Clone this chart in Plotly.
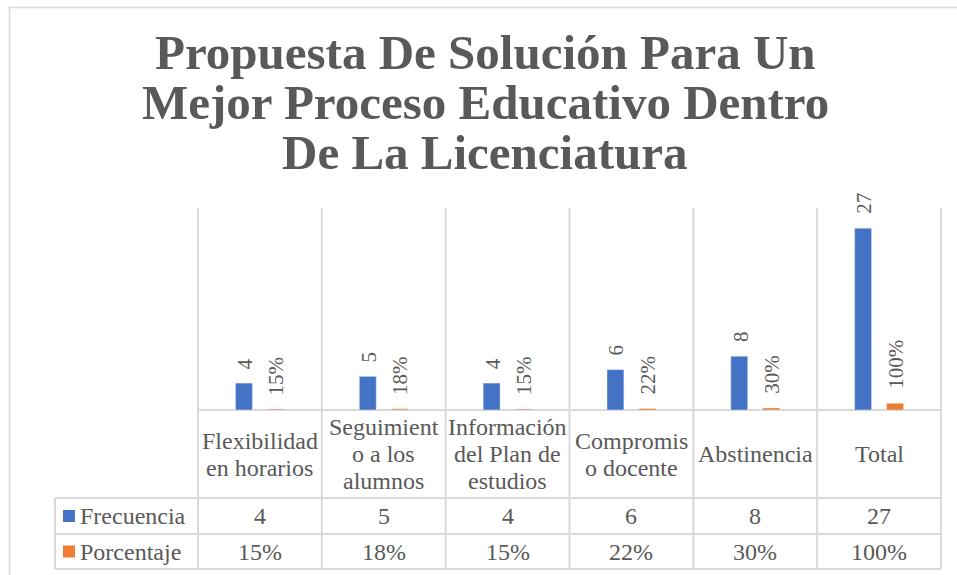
import plotly.graph_objects as go

# ---- data ----
categories = ["Flexibilidad en horarios", "Seguimiento a los alumnos",
              "Información del Plan de estudios", "Compromiso docente",
              "Abstinencia", "Total"]
header_labels = [["Flexibilidad", "en horarios"],
                 ["Seguimient", "o a los", "alumnos"],
                 ["Información", "del Plan de", "estudios"],
                 ["Compromis", "o docente"],
                 ["Abstinencia"],
                 ["Total"]]
frecuencia = [4, 5, 4, 6, 8, 27]
porcentaje = [0.15, 0.18, 0.15, 0.22, 0.30, 1.00]
series_names = ["Frecuencia", "Porcentaje"]
series_colors = ["#4472C4", "#ED7D31"]
title_lines = ["Propuesta De Solución Para Un",
               "Mejor Proceso Educativo Dentro",
               "De La Licenciatura"]

W, H = 957, 575
SERIF = "Liberation Serif, Times New Roman, serif"
TXT = "#595959"
GRID = "#d9d9d9"


def px(x):
    return x / W


def py(y):
    return 1 - y / H


# plot area in pixels
PX0, PX1 = 198, 941
PY_TOP, PY_BASE = 208, 410
ROW1, ROW2, ROW3 = 498, 534, 569
LEG_X = 55

fig = go.Figure()
fig.add_trace(go.Bar(x=categories, y=frecuencia, name=series_names[0],
                     marker_color=series_colors[0]))
fig.add_trace(go.Bar(x=categories, y=porcentaje, name=series_names[1],
                     marker_color=series_colors[1]))

annotations = []

# title, one annotation per line
for i, line in enumerate(title_lines):
    annotations.append(dict(
        text=f"<b>{line}</b>", x=px(485), y=py(53 + i * 49.5),
        xref="paper", yref="paper", xanchor="center", yanchor="middle",
        showarrow=False, font=dict(family=SERIF, size=49, color=TXT)))

# rotated value labels above the bars
label_font = dict(family=SERIF, size=21, color=TXT)
for c, v in zip(categories, frecuencia):
    annotations.append(dict(
        x=c, y=v, xref="x", yref="y", text=str(v), textangle=-90,
        xanchor="center", yanchor="bottom", xshift=-15, yshift=12,
        showarrow=False, font=label_font))
for c, v in zip(categories, porcentaje):
    annotations.append(dict(
        x=c, y=v, xref="x", yref="y", text=f"{v:.0%}", textangle=-90,
        xanchor="center", yanchor="bottom", xshift=17, yshift=12,
        showarrow=False, font=label_font))

# data table: header row with wrapped category names
table_font = dict(family=SERIF, size=24, color=TXT)
header_mid = (PY_BASE + ROW1) / 2
line_h = 27
for c, lines in zip(categories, header_labels):
    n = len(lines)
    for j, ln in enumerate(lines):
        annotations.append(dict(
            x=c, xref="x", y=py(header_mid + (j - (n - 1) / 2) * line_h),
            yref="paper", text=ln, showarrow=False, xanchor="center",
            yanchor="middle", font=table_font))

# data table: value rows
row_mids = [(ROW1 + ROW2) / 2, (ROW2 + ROW3) / 2]
row_texts = [[str(v) for v in frecuencia], [f"{v:.0%}" for v in porcentaje]]
for mid, texts in zip(row_mids, row_texts):
    for c, t in zip(categories, texts):
        annotations.append(dict(
            x=c, xref="x", y=py(mid), yref="paper", text=t,
            showarrow=False, xanchor="center", yanchor="middle",
            font=table_font))

# legend keys inside the table
shapes = []
for mid, name, color in zip(row_mids, series_names, series_colors):
    shapes.append(dict(type="rect", xref="paper", yref="paper",
                       x0=px(63), x1=px(75), y0=py(mid - 6), y1=py(mid + 6),
                       fillcolor=color, line=dict(width=0)))
    annotations.append(dict(
        x=px(78), y=py(mid), xref="paper", yref="paper", text=name,
        showarrow=False, xanchor="left", yanchor="middle", font=table_font))

# chart border
shapes.append(dict(type="rect", xref="paper", yref="paper",
                   x0=px(9.5), x1=1.05, y0=-0.05, y1=py(7.5),
                   line=dict(color=GRID, width=1.6), layer="below"))

# table grid lines
n = len(categories)
for k in range(n + 1):
    xk = px(PX0 + k * (PX1 - PX0) / n)
    shapes.append(dict(type="line", xref="paper", yref="paper",
                       x0=xk, x1=xk, y0=py(PY_TOP), y1=py(ROW3),
                       line=dict(color=GRID, width=2), layer="below"))
shapes.append(dict(type="line", xref="paper", yref="paper",
                   x0=px(PX0), x1=px(PX1), y0=py(PY_BASE), y1=py(PY_BASE),
                   line=dict(color=GRID, width=2), layer="below"))
for yy in (ROW1, ROW2, ROW3):
    shapes.append(dict(type="line", xref="paper", yref="paper",
                       x0=px(LEG_X), x1=px(PX1), y0=py(yy), y1=py(yy),
                       line=dict(color=GRID, width=2), layer="below"))
shapes.append(dict(type="line", xref="paper", yref="paper",
                   x0=px(LEG_X), x1=px(LEG_X), y0=py(ROW1), y1=py(ROW3),
                   line=dict(color=GRID, width=2), layer="below"))

fig.update_layout(
    width=W, height=H,
    margin=dict(l=0, r=0, t=0, b=0),
    paper_bgcolor="white", plot_bgcolor="rgba(0,0,0,0)",
    barmode="group", bargap=0.484, bargroupgap=0.47,
    showlegend=False,
    xaxis=dict(domain=[px(PX0), px(PX1)], showticklabels=False,
               showgrid=False, zeroline=False, showline=False, ticks=""),
    yaxis=dict(domain=[py(PY_BASE), py(PY_TOP)], range=[0, 30],
               showticklabels=False, showgrid=False, zeroline=False,
               showline=False, ticks=""),
    annotations=annotations,
    shapes=shapes,
)

fig.write_html("out.html")
